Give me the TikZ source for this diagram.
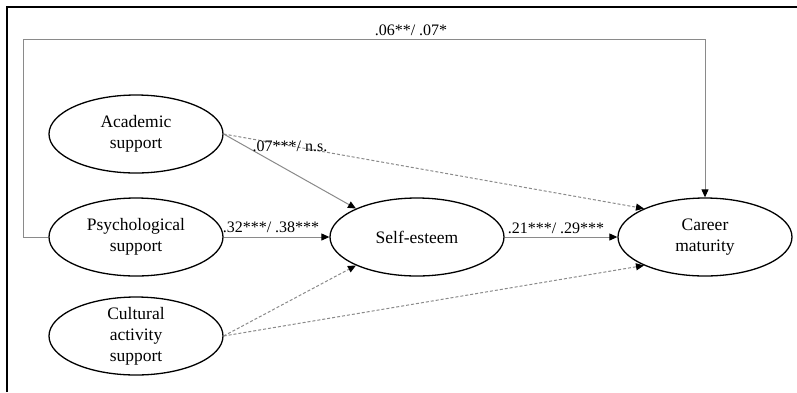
\documentclass[tikz,border=0pt]{standalone}
\usepackage{fontspec}
\setmainfont{Liberation Serif}
\usepackage{tikz}
\usetikzlibrary{shapes.geometric, arrows.meta}
\definecolor{lineGray}{HTML}{8A8A8A}

\begin{document}
\begin{tikzpicture}[x=1pt, y=-1pt,
    latent/.style={ellipse, draw=black, line width=1.3pt, minimum width=174pt, minimum height=78pt,
        inner sep=0pt, align=center, font=\fontsize{17.5}{21}\selectfont},
    sigpath/.style={draw=lineGray, line width=1pt, -{Triangle[length=8pt, width=7pt, color=black]}},
    nspath/.style={sigpath, dash pattern=on 3pt off 2pt},
    coef/.style={font=\fontsize{16}{19}\selectfont, inner sep=0pt}]
    \useasboundingbox (0,0) rectangle (797,392);
    % frame of the figure
    \draw[line width=2pt] (7,392) -- (7,7) -- (797,7);
    \node[latent] (acad) at (136,134) {Academic\\support};
    \node[latent] (psych) at (136,237) {Psychological\\support};
    \node[latent, inner ysep=-5pt] (cult) at (136,336) {Cultural\\activity\\support};
    \node[latent] (self) at (417,237) {Self-esteem};
    \node[latent] (career) at (705,237) {Career\\maturity};
    \coordinate (topleft) at (23,39);
    \draw[sigpath] (psych.west) -| (topleft) -| (career.north);
    \draw[sigpath] (acad.east) -- (self.155);
    \draw[nspath] (acad.east) -- (career.155);
    \draw[sigpath] (psych) -- (self);
    \draw[sigpath] (self) -- (career);
    \draw[nspath] (cult.east) -- (self.205);
    \draw[nspath] (cult.east) -- (career.205);
    \node[coef] at (411,30) {.06**/ .07*};
    \node[coef] at (290,146) {.07***/ n.s.};
    \node[coef] at (271,227) {.32***/ .38***};
    \node[coef] at (556,228) {.21***/ .29***};
\end{tikzpicture}
\end{document}
